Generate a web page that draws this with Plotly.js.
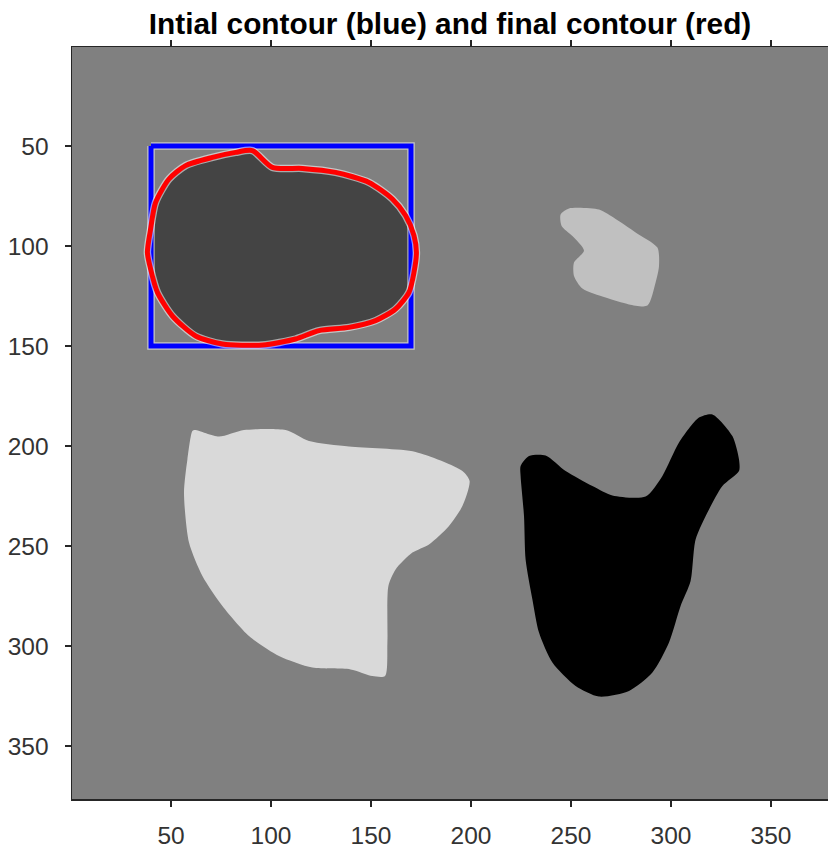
<!DOCTYPE html>
<html>
<head>
<meta charset="utf-8">
<script src="https://cdn.plot.ly/plotly-3.0.1.min.js"></script>
<style>html,body{margin:0;padding:0;background:#fff;}#chart{width:828px;height:850px;}</style>
</head>
<body>
<div id="chart"></div>
<script>
// Region outlines in image pixel coordinates (x = column, y = row)
const initialContourX = [40, 170, 170, 40, 40];
const initialContourY = [50, 50, 150, 150, 50];

const finalContourX = [90.7, 100.7, 115.7, 132.3, 149, 160.7, 167.3, 171.5, 172.7, 171.5, 169, 162.3, 152.3, 139, 124, 112.3, 95.7, 75.7, 62.3, 50.7, 43.2, 39.8, 38.2, 39.8, 42.3, 49, 57.3, 70.7, 82.3, 90.7];
const finalContourY = [52.3, 60.7, 61.2, 63.2, 68.2, 76.5, 84.8, 94.8, 103.2, 113.2, 123.2, 131.5, 137.3, 140.7, 142.3, 146.5, 149.5, 149, 145, 135, 123.2, 111.5, 103.2, 91.5, 78.2, 66.5, 59.8, 55.7, 53.2, 52.3];

const smallLightX = [244.8, 249, 264, 272.3, 282.3, 293.2, 294, 292.3, 288.2, 279, 267.3, 255.7, 251.5, 251.5, 256.5, 250.7, 245.3, 244.8];
const smallLightY = [84.2, 81.2, 81.8, 86.5, 93.2, 100.8, 110, 118.3, 129.8, 129.2, 125.8, 121.3, 115, 108.3, 102.3, 95, 90, 84.2];

const bigLightX = [62, 74, 86.5, 107.3, 119, 139, 172.3, 195.7, 199.3, 195.7, 189, 179, 170.7, 162.3, 158.7, 158.2, 157, 150.7, 139.8, 120.7, 104, 89, 75.7, 65.7, 59, 56.5, 58.2, 60.7, 62];
const bigLightY = [192, 195.3, 192, 192, 197.5, 200.3, 203, 212.5, 217.5, 230, 240, 249.2, 253.3, 261.7, 270, 298.3, 315, 315, 311.7, 310.8, 305, 295, 280, 265, 248.3, 223.3, 206.7, 192.5, 192];

const blackX = [224.8, 229, 237.3, 247.3, 260.7, 270.7, 287.3, 295.7, 304, 314, 320.7, 330.7, 334, 334, 325.7, 319, 312.3, 309.8, 304.8, 299, 290.7, 279, 264, 252.3, 240.7, 234, 230.7, 227.3, 226.5, 224.8, 224.8];
const blackY = [210, 205, 204.7, 212.5, 220, 224.7, 225.3, 215, 198.3, 185.8, 184.2, 195, 206.7, 212.5, 220, 231.7, 246.7, 267.5, 280, 298.3, 313.3, 322.5, 325.3, 320, 308.3, 293.3, 276.7, 256.7, 235, 215, 210];

const xTicks = [50, 100, 150, 200, 250, 300, 350];
const yTicks = [50, 100, 150, 200, 250, 300, 350];
const titleText = 'Intial contour (blue) and final contour (red)';

function region(x, y, color) {
  return {x: x, y: y, type: 'scatter', mode: 'lines', fill: 'toself',
    fillcolor: color, line: {color: color, width: 0, shape: 'spline', smoothing: 0.7},
    hoverinfo: 'skip', showlegend: false};
}
function outline(x, y, color, w, smooth) {
  return {x: x, y: y, type: 'scatter', mode: 'lines',
    line: smooth ? {color: color, width: w, shape: 'spline', smoothing: 0.7} : {color: color, width: w},
    hoverinfo: 'skip', showlegend: false};
}

const data = [
  region(smallLightX, smallLightY, '#c0c0c0'),
  region(bigLightX, bigLightY, '#d9d9d9'),
  region(blackX, blackY, '#000000'),
  region(finalContourX, finalContourY, '#444444'),
  outline(initialContourX, initialContourY, 'rgba(255,255,255,0.55)', 7.5, false),
  outline(initialContourX, initialContourY, '#0000ff', 5, false),
  outline(finalContourX, finalContourY, 'rgba(255,255,255,0.55)', 7.5, true),
  outline(finalContourX, finalContourY, '#ff0000', 5, true)
];

const axisCommon = {
  showgrid: false, zeroline: false, showline: true, linecolor: '#262626', linewidth: 1.5,
  ticks: 'outside', ticklen: 6, tickwidth: 1.5, tickcolor: '#262626', mirror: 'ticks',
  tickfont: {family: 'Liberation Sans, Arial, sans-serif', size: 24.5, color: '#333333'}
};

const layout = {
  width: 828, height: 850,
  margin: {l: 72, r: 0, t: 47, b: 51},
  paper_bgcolor: '#ffffff', plot_bgcolor: '#808080',
  title: {text: '<b>' + titleText + '</b>', x: 0.5435, xanchor: 'center', y: 0.972, yanchor: 'middle',
    font: {family: 'Liberation Sans, Arial, sans-serif', size: 29.8, color: '#000000'}},
  xaxis: Object.assign({}, axisCommon, {range: [0.5, 378.5], tickvals: xTicks, ticktext: xTicks.map(String), ticklabelstandoff: 8}),
  yaxis: Object.assign({}, axisCommon, {range: [376.5, 0.5], tickvals: yTicks, ticktext: yTicks.map(String), ticklabelstandoff: 11}),
  showlegend: false
};

Plotly.newPlot('chart', data, layout, {staticPlot: true, displayModeBar: false});
</script>
</body>
</html>
